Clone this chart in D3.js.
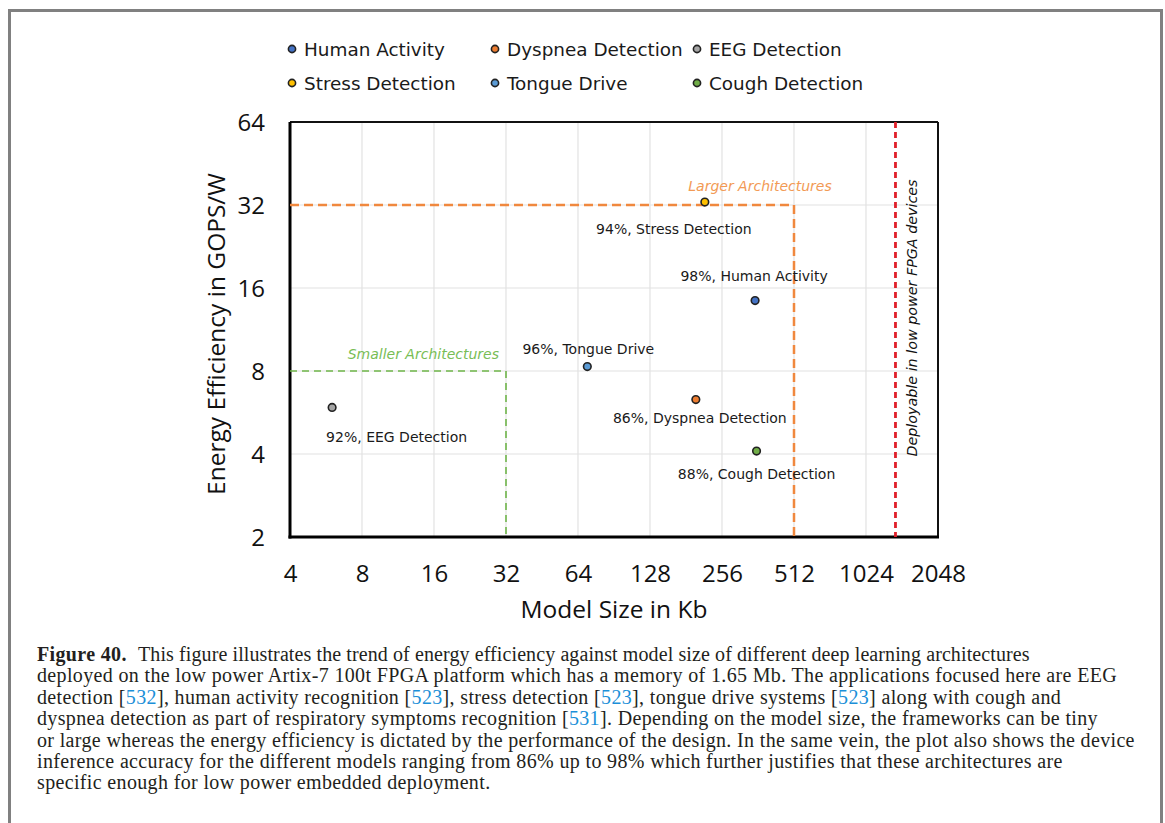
<!DOCTYPE html>
<html>
<head>
<meta charset="utf-8">
<script src="https://cdn.jsdelivr.net/npm/d3@7"></script>
<style>
  body { margin: 0; background: #fff; }
  svg { display: block; }
</style>
</head>
<body>
<div id="chart"></div>
<script>
  // data
  var names = ["Human Activity", "Dyspnea Detection", "EEG Detection", "Stress Detection", "Tongue Drive", "Cough Detection"];
  var modelSizeKb = [352, 199, 6, 217, 70, 357];
  var efficiency = [14.4, 6.3, 5.9, 32.8, 8.3, 4.1];
  var accuracy = [98, 86, 92, 94, 96, 88];
  var colors = ["#4472c4", "#ed7d31", "#a5a5a5", "#ffc000", "#5b9bd5", "#70ad47"];

  var xTicks = [4, 8, 16, 32, 64, 128, 256, 512, 1024, 2048];
  var yTicks = [2, 4, 8, 16, 32, 64];

  var smallerBox = [32, 8];     // Kb, GOPS/W
  var largerBox = [512, 32];
  var fpgaLimitKb = 1360;

  var captionLines = [
    [["b", "Figure 40."], ["s", "This figure illustrates the trend of energy efficiency against model size of different deep learning architectures"]],
    [["t", "deployed on the low power Artix-7 100t FPGA platform which has a memory of 1.65 Mb. The applications focused here are EEG"]],
    [["t", "detection ["], ["c", "532"], ["t", "], human activity recognition ["], ["c", "523"], ["t", "], stress detection ["], ["c", "523"], ["t", "], tongue drive systems ["], ["c", "523"], ["t", "] along with cough and"]],
    [["t", "dyspnea detection as part of respiratory symptoms recognition ["], ["c", "531"], ["t", "]. Depending on the model size, the frameworks can be tiny"]],
    [["t", "or large whereas the energy efficiency is dictated by the performance of the design. In the same vein, the plot also shows the device"]],
    [["t", "inference accuracy for the different models ranging from 86% up to 98% which further justifies that these architectures are"]],
    [["t", "specific enough for low power embedded deployment."]]
  ];

  var W = 1165, H = 823;
  var COMIC = "'DejaVu Sans', sans-serif";
  var SANS = "'Open Sans', 'DejaVu Sans', sans-serif";
  var SERIF = "'Liberation Serif', 'DejaVu Serif', serif";

  var plot = { left: 290, right: 938, top: 122, bottom: 537 };

  var svg = d3.select("#chart").append("svg")
    .attr("width", W).attr("height", H);

  // outer frame
  svg.append("rect")
    .attr("x", 9.5).attr("y", 10.5).attr("width", 1152).attr("height", 900)
    .attr("fill", "none").attr("stroke", "#808080").attr("stroke-width", 3);

  var x = d3.scaleLog().base(2).domain([4, 2048]).range([plot.left, plot.right]);
  var y = d3.scaleLog().base(2).domain([2, 64]).range([plot.bottom, plot.top]);

  // gridlines
  svg.append("g").selectAll("line").data(xTicks.slice(1, -1)).enter().append("line")
    .attr("x1", function (d) { return x(d); }).attr("x2", function (d) { return x(d); })
    .attr("y1", plot.top).attr("y2", plot.bottom)
    .attr("stroke", "#e2e2e2").attr("stroke-width", 1.2);
  svg.append("g").selectAll("line").data(yTicks.slice(1, -1)).enter().append("line")
    .attr("y1", function (d) { return y(d); }).attr("y2", function (d) { return y(d); })
    .attr("x1", plot.left).attr("x2", plot.right)
    .attr("stroke", "#e2e2e2").attr("stroke-width", 1.2);

  // axes frame
  svg.append("line").attr("x1", plot.left).attr("x2", plot.right)
    .attr("y1", plot.top).attr("y2", plot.top).attr("stroke", "#111").attr("stroke-width", 1.8);
  svg.append("line").attr("x1", plot.right).attr("x2", plot.right)
    .attr("y1", plot.top).attr("y2", plot.bottom).attr("stroke", "#111").attr("stroke-width", 2);
  svg.append("line").attr("x1", plot.left).attr("x2", plot.left)
    .attr("y1", plot.top).attr("y2", plot.bottom + 1.5).attr("stroke", "#000").attr("stroke-width", 3);
  svg.append("line").attr("x1", plot.left - 1.5).attr("x2", plot.right + 1)
    .attr("y1", plot.bottom).attr("y2", plot.bottom).attr("stroke", "#000").attr("stroke-width", 3);

  // tick labels
  var xAxis = d3.axisBottom(x).tickValues(xTicks).tickFormat(d3.format("d")).tickSize(0).tickPadding(0);
  var gx = svg.append("g").attr("transform", "translate(0," + (plot.bottom + 45) + ")").call(xAxis);
  gx.select(".domain").remove();
  gx.selectAll("text").attr("dy", 0).attr("font-family", SANS).attr("font-size", "24px").attr("fill", "#111");

  var yAxis = d3.axisLeft(y).tickValues(yTicks).tickFormat(d3.format("d")).tickSize(0).tickPadding(0);
  var gy = svg.append("g").attr("transform", "translate(" + (plot.left - 25) + ",0)").call(yAxis);
  gy.select(".domain").remove();
  gy.selectAll("text").attr("dy", "0.36em").attr("font-family", SANS).attr("font-size", "24px").attr("fill", "#111");

  // axis titles
  svg.append("text").attr("x", 614).attr("y", 618)
    .attr("text-anchor", "middle").attr("font-family", SANS).attr("font-size", "24.5px").attr("fill", "#111")
    .text("Model Size in Kb");
  svg.append("text").attr("transform", "translate(225,334) rotate(-90)")
    .attr("text-anchor", "middle").attr("font-family", SANS).attr("font-size", "24.5px").attr("fill", "#111")
    .text("Energy Efficiency in GOPS/W");

  // region boxes
  var dashG = svg.append("g").attr("fill", "none");
  dashG.append("path")
    .attr("d", "M" + x(4) + "," + y(smallerBox[1]) + "H" + x(smallerBox[0]) + "V" + y(2))
    .attr("stroke", "#6fb54a").attr("stroke-width", 1.6).attr("stroke-dasharray", "7,5");
  dashG.append("path")
    .attr("d", "M" + x(4) + "," + y(largerBox[1]) + "H" + x(largerBox[0]) + "V" + y(2))
    .attr("stroke", "#f0883e").attr("stroke-width", 2.5).attr("stroke-dasharray", "9,5");
  dashG.append("line")
    .attr("x1", x(fpgaLimitKb)).attr("x2", x(fpgaLimitKb)).attr("y1", plot.top).attr("y2", plot.bottom)
    .attr("stroke", "#e0202a").attr("stroke-width", 2.8).attr("stroke-dasharray", "6,4");

  svg.append("text").attr("x", x(smallerBox[0]) - 7).attr("y", y(smallerBox[1]) - 12)
    .attr("text-anchor", "end").attr("font-family", COMIC).attr("font-style", "italic")
    .attr("font-size", "14px").attr("fill", "#78bd55").text("Smaller Architectures");
  svg.append("text").attr("x", 760).attr("y", y(largerBox[1]) - 14)
    .attr("text-anchor", "middle").attr("font-family", COMIC).attr("font-style", "italic")
    .attr("font-size", "14px").attr("fill", "#f29a55").text("Larger Architectures");
  svg.append("text").attr("transform", "translate(" + (x(fpgaLimitKb) + 22) + ",318) rotate(-90)")
    .attr("text-anchor", "middle").attr("font-family", COMIC).attr("font-style", "italic")
    .attr("font-size", "14.3px").attr("fill", "#111").text("Deployable in low power FPGA devices");

  // points
  var pts = names.map(function (n, i) {
    return { name: n, size: modelSizeKb[i], eff: efficiency[i], acc: accuracy[i], color: colors[i] };
  });
  svg.append("g").selectAll("circle").data(pts).enter().append("circle")
    .attr("cx", function (d) { return x(d.size); })
    .attr("cy", function (d) { return y(d.eff); })
    .attr("r", 3.8)
    .attr("fill", function (d) { return d.color; })
    .attr("stroke", "#222").attr("stroke-width", 1.6);

  // point labels (offset in px from the marker)
  var labelPos = {
    "Human Activity": [-1, -20, "middle"],
    "Dyspnea Detection": [4, 23, "middle"],
    "EEG Detection": [-6, 35, "start"],
    "Stress Detection": [-31, 32, "middle"],
    "Tongue Drive": [1, -13, "middle"],
    "Cough Detection": [0, 28, "middle"]
  };
  svg.append("g").selectAll("text").data(pts).enter().append("text")
    .attr("x", function (d) { return x(d.size) + labelPos[d.name][0]; })
    .attr("y", function (d) { return y(d.eff) + labelPos[d.name][1]; })
    .attr("text-anchor", function (d) { return labelPos[d.name][2]; })
    .attr("font-family", COMIC).attr("font-size", "14px").attr("fill", "#1a1a1a")
    .text(function (d) { return d.acc + "%, " + d.name; });

  // legend: 3 columns x 2 rows
  var legCols = [292, 495, 697], legRows = [49, 83];
  var leg = svg.append("g").selectAll("g").data(pts).enter().append("g")
    .attr("transform", function (d, i) {
      return "translate(" + legCols[i % 3] + "," + legRows[Math.floor(i / 3)] + ")";
    });
  leg.append("circle").attr("r", 3.6)
    .attr("fill", function (d) { return d.color; })
    .attr("stroke", "#222").attr("stroke-width", 1.6);
  leg.append("text").attr("x", 12).attr("y", 7)
    .attr("font-family", COMIC).attr("font-size", "18.4px").attr("fill", "#1a1a1a")
    .text(function (d) { return d.name; });

  // caption
  var cap = svg.append("g").attr("font-family", SERIF).attr("font-size", "20px")
    .attr("letter-spacing", "0.35px").attr("fill", "#231f20");
  captionLines.forEach(function (line, li) {
    var t = cap.append("text").attr("x", 37).attr("y", 661 + li * 21.4);
    line.forEach(function (seg) {
      var ts = t.append("tspan").text(seg[1]);
      if (seg[0] === "b") ts.attr("font-weight", "bold");
      if (seg[0] === "s") ts.attr("x", 138).attr("letter-spacing", "0.1px");
      if (seg[0] === "c") ts.attr("fill", "#1b8fd8");
    });
  });
</script>
</body>
</html>
